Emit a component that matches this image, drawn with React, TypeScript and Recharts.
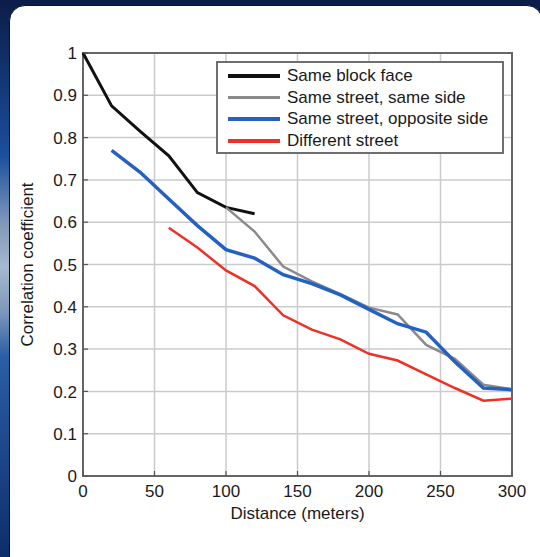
import React from 'react';
import { LineChart, Line, XAxis, YAxis, CartesianGrid, ReferenceArea, Legend } from 'recharts';

const distances = [0, 20, 40, 60, 80, 100, 120, 140, 160, 180, 200, 220, 240, 260, 280, 300];
const sameBlockFace = [1.0, 0.875, 0.815, 0.757, 0.67, 0.635, 0.62, null, null, null, null, null, null, null, null, null];
const sameStreetSameSide = [null, null, null, null, null, 0.635, 0.578, 0.495, 0.46, 0.43, 0.398, 0.382, 0.31, 0.277, 0.216, 0.205];
const sameStreetOppositeSide = [null, 0.77, 0.718, 0.655, 0.592, 0.535, 0.515, 0.476, 0.455, 0.428, 0.394, 0.36, 0.34, 0.27, 0.208, 0.204];
const differentStreet = [null, null, null, 0.587, 0.54, 0.486, 0.449, 0.38, 0.346, 0.323, 0.289, 0.273, 0.24, 0.208, 0.178, 0.183];

const seriesNames = ['Same block face', 'Same street, same side', 'Same street, opposite side', 'Different street'];
const seriesKeys = ['blockFace', 'sameSide', 'oppositeSide', 'different'];
const seriesColors = ['#111111', '#8a8a8a', '#2461c2', '#ee3124'];
const seriesWidths = [3, 2.5, 3.5, 2.5];

const xTicks = [0, 50, 100, 150, 200, 250, 300];
const yTicks = [0, 0.1, 0.2, 0.3, 0.4, 0.5, 0.6, 0.7, 0.8, 0.9, 1];
const xTitle = 'Distance (meters)';
const yTitle = 'Correlation coefficient';

const data = distances.map((d, i) => ({
  distance: d,
  blockFace: sameBlockFace[i],
  sameSide: sameStreetSameSide[i],
  oppositeSide: sameStreetOppositeSide[i],
  different: differentStreet[i],
}));

const FONT = '"Liberation Sans", Arial, Helvetica, sans-serif';
const TEXT = '#1a1a1a';
const FS = 17;

const LegendBox = () => (
  <div
    style={{
      width: 288,
      height: 93,
      boxSizing: 'border-box',
      border: '2px solid #6e6e6e',
      background: '#fff',
      paddingTop: 2,
      fontFamily: FONT,
      fontSize: FS,
      color: TEXT,
    }}
  >
    {seriesNames.map((name, i) => (
      <div key={name} style={{ display: 'flex', alignItems: 'center', height: 21.7 }}>
        <div style={{ marginLeft: 10, width: 52, height: 3.5, background: seriesColors[i] }} />
        <span style={{ marginLeft: 7, whiteSpace: 'nowrap', lineHeight: '21.7px' }}>{name}</span>
      </div>
    ))}
  </div>
);

const XTick = (props: any) => {
  const { x, y, payload } = props;
  return (
    <g>
      <line x1={x} x2={x} y1={y - 8} y2={y - 13} stroke="#555" strokeWidth={1.2} />
      <text x={x} y={y} dy="0.75em" textAnchor="middle" fill={TEXT} fontSize={FS} fontFamily={FONT}>
        {payload.value}
      </text>
    </g>
  );
};

const YTick = (props: any) => {
  const { x, y, payload } = props;
  return (
    <g>
      <line x1={x} x2={x + 5} y1={y} y2={y} stroke="#555" strokeWidth={1.2} />
      <text x={x - 6} y={y} dy="0.36em" textAnchor="end" fill={TEXT} fontSize={FS} fontFamily={FONT}>
        {payload.value}
      </text>
    </g>
  );
};

export default function App() {
  return (
    <div
      style={{
        position: 'fixed',
        left: 0,
        top: 0,
        width: 540,
        height: 557,
        overflow: 'hidden',
        background:
          'linear-gradient(180deg, #0c1c48 0%, #1b4f9c 28%, #7f98bb 40%, #a7b8cf 48%, #7d97bb 56%, #2a5ea6 64%, #0e2d6a 100%)',
      }}
    >
      <div
        style={{
          position: 'absolute',
          left: 9,
          top: 5,
          width: 534,
          height: 620,
          borderRadius: 16,
          background: '#fff',
          border: '1.5px solid #0d1226',
          boxSizing: 'border-box',
        }}
      />
      <div style={{ position: 'absolute', left: 0, top: 0 }}>
        <LineChart width={540} height={557} data={data} margin={{ top: 53, right: 28, bottom: 51, left: 33 }}>
          <CartesianGrid stroke="#cbcbcb" strokeWidth={1.5} />
          <XAxis
            dataKey="distance"
            type="number"
            domain={[0, 300]}
            ticks={xTicks}
            height={30}
            axisLine={false}
            tickLine={false}
            tickSize={0}
            tickMargin={8}
            tick={<XTick />}
            label={{
              content: (props: any) => {
                const vb = props.viewBox;
                return (
                  <text
                    x={vb.x + vb.width / 2}
                    y={vb.y + 37}
                    textAnchor="middle"
                    dominantBaseline="central"
                    fill={TEXT}
                    fontSize={FS}
                    fontFamily={FONT}
                  >
                    {xTitle}
                  </text>
                );
              },
            }}
          />
          <YAxis
            type="number"
            domain={[0, 1]}
            ticks={yTicks}
            width={50}
            axisLine={false}
            tickLine={false}
            tickSize={0}
            tickMargin={0}
            tick={<YTick />}
            label={{
              content: (props: any) => {
                const vb = props.viewBox;
                const cx = vb.x - 6;
                const cy = vb.y + vb.height / 2;
                return (
                  <text
                    x={cx}
                    y={cy}
                    transform={`rotate(-90, ${cx}, ${cy})`}
                    textAnchor="middle"
                    dominantBaseline="central"
                    fill={TEXT}
                    fontSize={FS}
                    fontFamily={FONT}
                  >
                    {yTitle}
                  </text>
                );
              },
            }}
          />
          <ReferenceArea x1={0} x2={300} y1={0} y2={1} fill="none" stroke="#666" strokeWidth={2} ifOverflow="visible" />
          {seriesKeys.map((k, i) => (
            <Line
              key={k}
              dataKey={k}
              name={seriesNames[i]}
              stroke={seriesColors[i]}
              strokeWidth={seriesWidths[i]}
              dot={false}
              activeDot={false}
              isAnimationActive={false}
              type="linear"
            />
          ))}
          <Legend
            layout="vertical"
            align="center"
            verticalAlign="middle"
            wrapperStyle={{ left: 216, top: 61, width: 288, height: 93 }}
            content={() => <LegendBox />}
          />
        </LineChart>
      </div>
    </div>
  );
}
